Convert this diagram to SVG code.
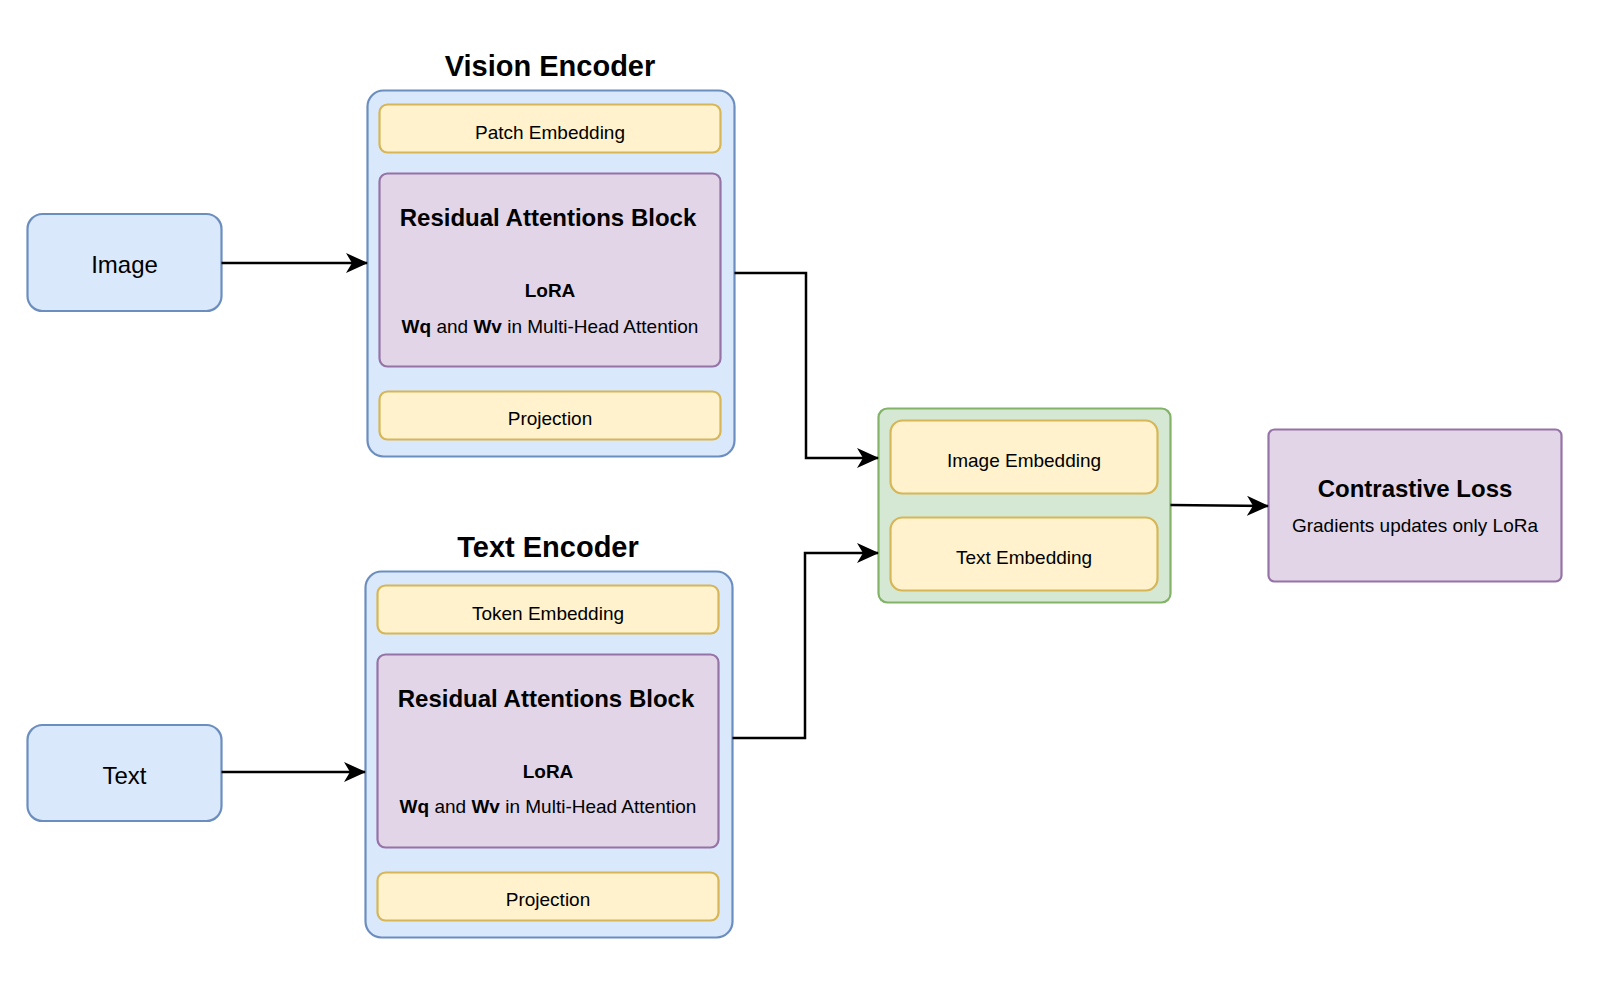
<svg xmlns="http://www.w3.org/2000/svg" width="1600" height="983" viewBox="0 0 1600 983">
<style>
text{font-family:"Liberation Sans",Arial,Helvetica,sans-serif;fill:#000;text-anchor:middle}
.blue{fill:#dae8fc;stroke:#6c8ebf;stroke-width:2.2}
.yel{fill:#fff2cc;stroke:#d6b656;stroke-width:2.2}
.pur{fill:#e1d5e7;stroke:#9673a6;stroke-width:2.2}
.grn{fill:#d5e8d4;stroke:#82b366;stroke-width:2.2}
.title{font-size:29px;font-weight:bold}
.lbl{font-size:19px}
.big{font-size:24px}
.b{font-weight:bold}
.edge{fill:none;stroke:#000;stroke-width:2.5}
</style>
<defs>
<marker id="arr" markerUnits="userSpaceOnUse" markerWidth="22" markerHeight="20" viewBox="0 0 22 20" refX="21" refY="10" orient="auto">
<path d="M0,0 L22,10 L0,20 L6,10 z" fill="#000"/>
</marker>
</defs>
<rect width="1600" height="983" fill="#fff"/>

<g id="image">
<rect class="blue" x="27.5" y="214" width="194" height="97" rx="15"/>
<text class="big" x="124.5" y="273">Image</text>
</g>
<g id="text-input">
<rect class="blue" x="27.5" y="725" width="194" height="96" rx="15"/>
<text class="big" x="124.5" y="784">Text</text>
</g>

<g id="vision-encoder">
<text class="title" x="550" y="76">Vision Encoder</text>
<rect class="blue" x="367.5" y="90.5" width="367" height="366" rx="16"/>
<g id="patch-embedding">
<rect class="yel" x="379.5" y="104.5" width="341" height="48" rx="8"/>
<text class="lbl" x="550" y="139">Patch Embedding</text>
</g>
<g id="vision-rab">
<rect class="pur" x="379.5" y="173.5" width="341" height="193" rx="8"/>
<text class="b" style="font-size:24px" x="548" y="226">Residual Attentions Block</text>
<text class="lbl b" x="550" y="297">LoRA</text>
<text class="lbl" x="550" y="333"><tspan class="b">Wq</tspan> and <tspan class="b">Wv</tspan> in Multi-Head Attention</text>
</g>
<g id="vision-projection">
<rect class="yel" x="379.5" y="391.5" width="341" height="48" rx="8"/>
<text class="lbl" x="550" y="425">Projection</text>
</g>
</g>

<g id="text-encoder">
<text class="title" x="548" y="557">Text Encoder</text>
<rect class="blue" x="365.5" y="571.5" width="367" height="366" rx="16"/>
<g id="token-embedding">
<rect class="yel" x="377.5" y="585.5" width="341" height="48" rx="8"/>
<text class="lbl" x="548" y="620">Token Embedding</text>
</g>
<g id="text-rab">
<rect class="pur" x="377.5" y="654.5" width="341" height="193" rx="8"/>
<text class="b" style="font-size:24px" x="546" y="707">Residual Attentions Block</text>
<text class="lbl b" x="548" y="778">LoRA</text>
<text class="lbl" x="548" y="813"><tspan class="b">Wq</tspan> and <tspan class="b">Wv</tspan> in Multi-Head Attention</text>
</g>
<g id="text-projection">
<rect class="yel" x="377.5" y="872.5" width="341" height="48" rx="8"/>
<text class="lbl" x="548" y="906">Projection</text>
</g>
</g>

<g id="embeddings">
<rect class="grn" x="878.5" y="408.5" width="292" height="194" rx="9"/>
<g id="image-embedding">
<rect class="yel" x="890.5" y="420.5" width="267" height="73" rx="12"/>
<text class="lbl" x="1024" y="467">Image Embedding</text>
</g>
<g id="text-embedding">
<rect class="yel" x="890.5" y="517.5" width="267" height="73" rx="12"/>
<text class="lbl" x="1024" y="564">Text Embedding</text>
</g>
</g>

<g id="contrastive-loss">
<rect class="pur" x="1268.5" y="429.5" width="293" height="152" rx="6"/>
<text class="b" style="font-size:24px" x="1415" y="497">Contrastive Loss</text>
<text class="lbl" x="1415" y="532">Gradients updates only LoRa</text>
</g>

<g id="connectors">
<path class="edge" marker-end="url(#arr)" d="M221.5,263 L367,263"/>
<path class="edge" marker-end="url(#arr)" d="M221.5,772 L365,772"/>
<path class="edge" marker-end="url(#arr)" d="M734.5,273 L806,273 L806,458 L878,458"/>
<path class="edge" marker-end="url(#arr)" d="M732.5,738 L805,738 L805,553 L878,553"/>
<path class="edge" marker-end="url(#arr)" d="M1170.5,505 L1268,506"/>
</g>
</svg>
